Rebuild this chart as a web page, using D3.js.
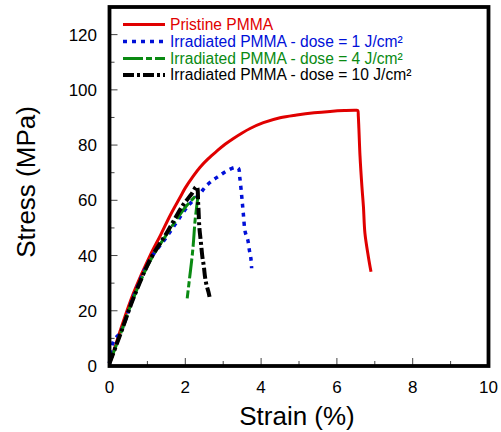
<!DOCTYPE html>
<html>
<head>
  <title>Stress-strain PMMA</title>
  <script src="https://cdnjs.cloudflare.com/ajax/libs/d3/7.8.5/d3.min.js"></script>
  <style>
    body { margin: 0; background: #fff; }
    text { font-family: "Liberation Sans", Arial, Helvetica, sans-serif; }
    .curve { fill: none; stroke-linejoin: round; }
  </style>
</head>
<body>
  <svg width="501" height="432"></svg>
<script>
// strain (%) / stress (MPa)
var pristine = [[0,1],[0.05,2.8],[0.3,13.5],[0.63,26.3],[1.07,40],[1.35,47.5],[1.6,54.5],[1.86,61],[2.0,64.5],
  [2.2,68.6],[2.39,72],[2.6,75],[2.83,77.8],[3.05,80.3],[3.27,82.4],[3.5,84.4],[3.71,86],[4.06,88.1],
  [4.5,89.9],[4.94,90.9],[5.4,91.7],[5.82,92.2],[6.2,92.5],[6.5,92.6],[6.55,92.5],[6.565,90.5],[6.58,86],[6.61,76],
  [6.66,65],[6.70,57.7],[6.74,48],[6.83,39.6],[6.90,34.1]];
var dose1 = [[0,1],[0.1,8.8],[0.3,12.5],[0.63,25],[1.07,38.5],[1.51,46.8],[1.99,56.5],[2.12,58.7],
  [2.39,62.5],[2.55,65.2],[2.74,67.4],[2.89,68.8],[3.09,70.6],[3.31,71.9],[3.40,71.6],[3.44,68],
  [3.49,61.3],[3.53,55.3],[3.58,48.6],[3.65,45.6],[3.69,42],[3.73,39],[3.75,35.4]];
var dose4 = [[0,1],[0.3,12],[0.63,24.5],[1.07,38],[1.5,47.5],[2.0,57.5],[2.2,60.5],[2.32,62],
  [2.30,57.7],[2.26,53],[2.21,44],[2.17,38.4],[2.11,31.5],[2.05,24.5]];
var dose10 = [[0,1],[0.3,12],[0.63,24.5],[1.07,38.4],[1.5,48],[1.95,58.5],[2.15,62],[2.30,65],
  [2.34,58.9],[2.37,50.4],[2.41,45],[2.45,39.6],[2.49,36],[2.52,32.3],[2.56,29.3],[2.61,26.9],[2.64,25]];

var seriesNames = ["Pristine PMMA", "Irradiated PMMA - dose = 1 J/cm\u00b2",
  "Irradiated PMMA - dose = 4 J/cm\u00b2", "Irradiated PMMA - dose = 10 J/cm\u00b2"];
var seriesData = [pristine, dose1, dose4, dose10];
var xTicks = [0, 2, 4, 6, 8, 10];
var yTicks = [0, 20, 40, 60, 80, 100, 120];

var styles = [
  {color: "#e00000", width: 3, dash: null},
  {color: "#0010d8", width: 3.5, dash: "4,5"},
  {color: "#0a8a12", width: 3, dash: "20,3,6,3"},
  {color: "#000000", width: 4, dash: "11,3,3,3"}
];

var svg = d3.select("svg");
var plot = {left: 109.5, right: 488.5, top: 7, bottom: 366};

var x = d3.scaleLinear().domain([0, 10]).range([plot.left, plot.right]);
var y = d3.scaleLinear().domain([0, 130]).range([plot.bottom, plot.top]);

var line = d3.line()
    .curve(d3.curveCatmullRom.alpha(0.5))
    .x(function(d) { return x(d[0]); })
    .y(function(d) { return y(d[1]); });

// curves
svg.append("g").selectAll("path")
    .data(seriesData)
  .enter().append("path")
    .attr("class", "curve")
    .attr("d", line)
    .attr("stroke", function(d, i) { return styles[i].color; })
    .attr("stroke-width", function(d, i) { return styles[i].width; })
    .attr("stroke-dasharray", function(d, i) { return styles[i].dash; });

// ticks pointing inward, minor every half step
var xMinor = d3.range(1, 10, 2), yMinor = d3.range(10, 130, 20);
var tk = svg.append("g").attr("stroke", "#444").attr("stroke-width", 1);
xTicks.concat(xMinor).forEach(function(v) {
  var len = xTicks.indexOf(v) >= 0 ? 8 : 5;
  tk.append("line").attr("x1", x(v)).attr("x2", x(v)).attr("y1", plot.bottom).attr("y2", plot.bottom - len);
});
yTicks.concat(yMinor).forEach(function(v) {
  var len = yTicks.indexOf(v) >= 0 ? 8 : 5;
  tk.append("line").attr("x1", plot.left).attr("x2", plot.left + len).attr("y1", y(v)).attr("y2", y(v));
});

// frame
svg.append("rect")
    .attr("x", plot.left).attr("y", plot.top)
    .attr("width", plot.right - plot.left).attr("height", plot.bottom - plot.top)
    .attr("fill", "none").attr("stroke", "#000").attr("stroke-width", 3.8);

// tick labels
svg.append("g").selectAll("text").data(xTicks).enter().append("text")
    .attr("x", function(d) { return x(d); })
    .attr("y", plot.bottom + 27)
    .attr("text-anchor", "middle")
    .attr("font-size", 17)
    .text(function(d) { return d; });
svg.append("g").selectAll("text").data(yTicks).enter().append("text")
    .attr("x", 97)
    .attr("y", function(d) { return y(d) + 6; })
    .attr("text-anchor", "end")
    .attr("font-size", 17)
    .text(function(d) { return d; });

// axis titles
svg.append("text")
    .attr("x", 297).attr("y", 425)
    .attr("text-anchor", "middle")
    .attr("font-size", 26)
    .text("Strain (%)");
svg.append("text")
    .attr("transform", "translate(35,182) rotate(-90)")
    .attr("text-anchor", "middle")
    .attr("font-size", 26)
    .text("Stress (MPa)");

// legend
var lg = svg.append("g");
seriesNames.forEach(function(name, i) {
  var by = [29.5, 46.5, 63.5, 80][i];
  lg.append("line")
      .attr("x1", 123).attr("x2", 165)
      .attr("y1", by - 5).attr("y2", by - 5)
      .attr("stroke", styles[i].color)
      .attr("stroke-width", styles[i].width)
      .attr("stroke-dasharray", styles[i].dash);
  lg.append("text")
      .attr("x", 170).attr("y", by)
      .attr("font-size", 15.6)
      .attr("fill", styles[i].color)
      .text(name);
});
</script>
</body>
</html>
